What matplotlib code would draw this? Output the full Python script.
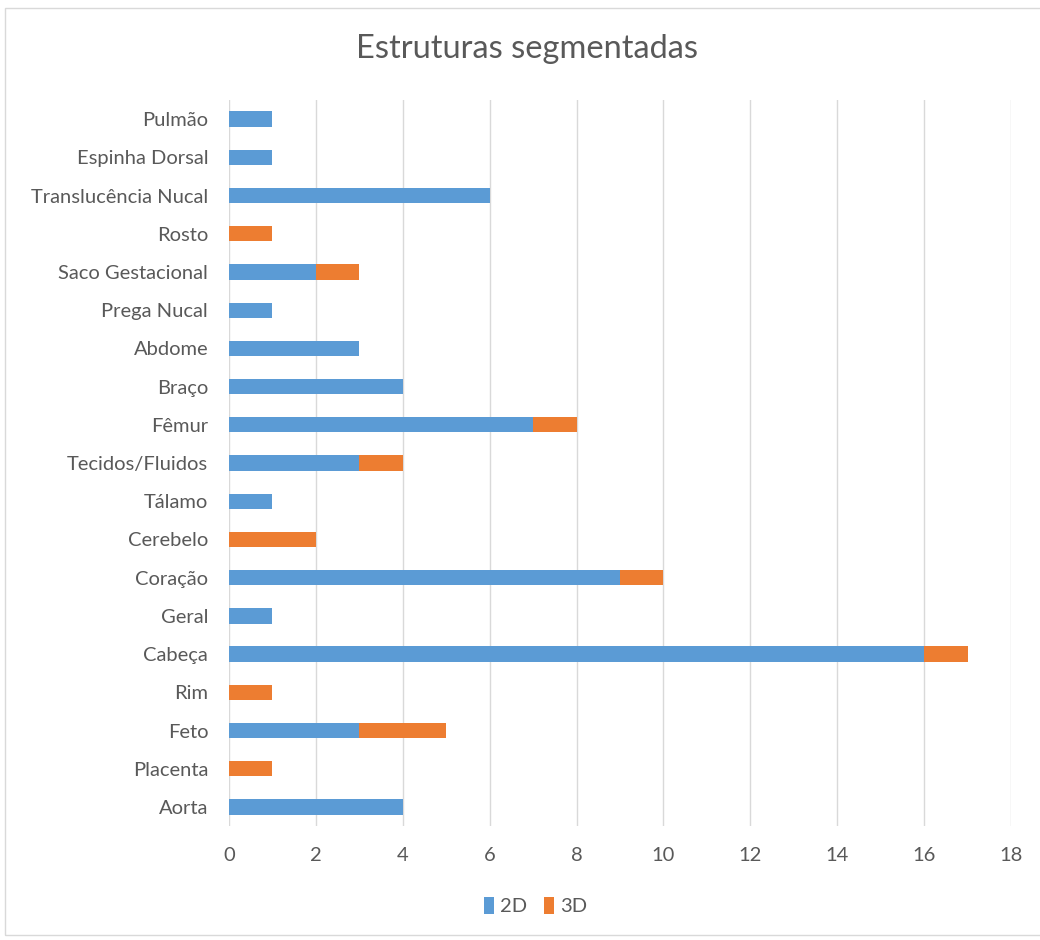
import matplotlib.pyplot as plt
from matplotlib.patches import Rectangle

categories = ['Aorta', 'Placenta', 'Feto', 'Rim', 'Cabeça', 'Geral', 'Coração',
              'Cerebelo', 'Tálamo', 'Tecidos/Fluidos', 'Fêmur', 'Braço', 'Abdome',
              'Prega Nucal', 'Saco Gestacional', 'Rosto', 'Translucência Nucal',
              'Espinha Dorsal', 'Pulmão']
values_2d = [4, 0, 3, 0, 16, 1, 9, 0, 1, 3, 7, 4, 3, 1, 2, 0, 6, 1, 1]
values_3d = [0, 1, 2, 1, 1, 0, 1, 2, 0, 1, 1, 0, 0, 0, 1, 1, 0, 0, 0]
x_ticks = list(range(0, 19, 2))

plt.rcParams['font.family'] = ['Lato', 'DejaVu Sans']
text_color = '#595959'

fig = plt.figure(figsize=(10.4, 9.4), dpi=100)
fig.patches.append(Rectangle((0.005, 0.005), 1.2, 0.987, transform=fig.transFigure,
                             fill=False, edgecolor='#D9D9D9', linewidth=1))
ax = fig.add_axes([0.2202, 0.1212, 0.7519, 0.7724])

y = range(len(categories))
ax.barh(y, values_2d, height=0.4, color='#5B9BD5', label='2D', zorder=3)
ax.barh(y, values_3d, left=values_2d, height=0.4, color='#ED7D31', label='3D', zorder=3)

ax.set_xlim(0, 18)
ax.set_ylim(-0.5, len(categories) - 0.5)
ax.set_xticks(x_ticks)
ax.set_yticks(list(y))
ax.set_yticklabels(categories)
ax.grid(axis='x', color='#D9D9D9', linewidth=1, zorder=0)
for s in ax.spines.values():
    s.set_visible(False)
ax.tick_params(axis='both', length=0, labelsize=14.5, labelcolor=text_color)
ax.tick_params(axis='y', pad=15)
ax.tick_params(axis='x', pad=15)

fig.text(0.507, 0.948, 'Estruturas segmentadas', ha='center', va='center',
         fontsize=23.5, color=text_color)
fig.legend(loc='center', bbox_to_anchor=(0.515, 0.036), ncol=2, frameon=False,
           fontsize=14.5, labelcolor=text_color, handlelength=0.5, handleheight=0.9,
           handletextpad=0.3, columnspacing=0.8)

fig.savefig('out.png', dpi=100)
